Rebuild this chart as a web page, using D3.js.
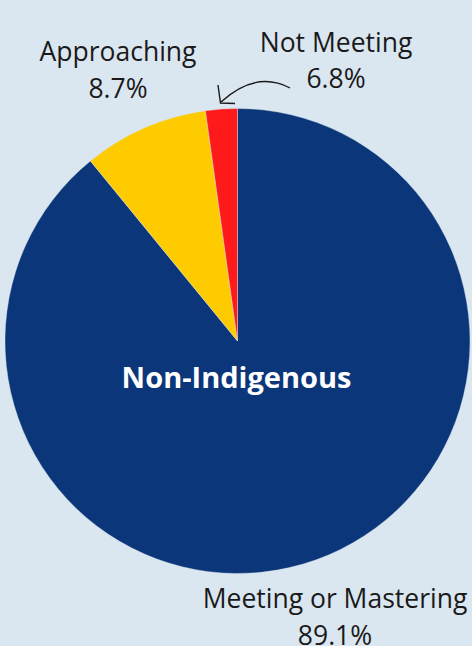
<!DOCTYPE html>
<html>
<head>
<meta charset="utf-8">
<script src="https://cdn.jsdelivr.net/npm/d3@7"></script>
<style>
html,body{margin:0;padding:0;background:#dae7f1;}
svg{display:block;}
</style>
</head>
<body>
<svg id="chart" width="472" height="646"></svg>
<script>
// Data
const categories = ["Meeting or Mastering", "Approaching", "Not Meeting"];
const sliceValues = [89.1, 8.7, 2.2];          // drawn slice sizes (as seen in picture)
const labelValues = ["89.1%", "8.7%", "6.8%"]; // printed labels
const colors = ["#0b3679", "#fecb00", "#fe1a1a"];
const centerTitle = "Non-Indigenous";

const svg = d3.select("#chart");
const W = 472, H = 646;
svg.append("rect").attr("width", W).attr("height", H).attr("fill", "#dae7f1");

const cx = 237.5, cy = 341, r = 232.5;

const pie = d3.pie().sort(null).value(d => d.v);
const arcs = pie(categories.map((c, i) => ({c, v: sliceValues[i], color: colors[i]})));
const arc = d3.arc().innerRadius(0).outerRadius(r);

const g = svg.append("g").attr("transform", `translate(${cx},${cy})`);
g.selectAll("path").data(arcs).join("path")
  .attr("d", arc)
  .attr("fill", d => d.data.color)
  .attr("stroke", "#dae7f1")
  .attr("stroke-width", 0.4);

g.append("text")
  .attr("x", -1).attr("y", 46.5)
  .attr("text-anchor", "middle")
  .attr("font-family", "'Open Sans', sans-serif")
  .attr("font-weight", 700)
  .attr("font-size", 29)
  .attr("fill", "#ffffff")
  .text(centerTitle);

// Labels
const labelPos = [
  {x: 335, y1: 608, y2: 645},
  {x: 118, y1: 61, y2: 98},
  {x: 336, y1: 52, y2: 88}
];
const font = "'Open Sans', sans-serif";
categories.forEach((c, i) => {
  const p = labelPos[i];
  const t = svg.append("text")
    .attr("text-anchor", "middle")
    .attr("font-family", font)
    .attr("font-size", 26.5)
    .attr("fill", "#1a1a1a");
  t.append("tspan").attr("x", p.x).attr("y", p.y1).text(c);
  t.append("tspan").attr("x", p.x).attr("y", p.y2).text(labelValues[i]);
});

// Arrow pointing to the small slice
svg.append("path")
  .attr("d", "M290,88 Q256,70 221,102")
  .attr("fill", "none").attr("stroke", "#1a1a1a").attr("stroke-width", 1.4);
svg.append("path")
  .attr("d", "M218,85 L220.5,103 L235,103.5")
  .attr("fill", "none").attr("stroke", "#1a1a1a").attr("stroke-width", 1.4)
  .attr("stroke-linejoin", "miter");
</script>
</body>
</html>
